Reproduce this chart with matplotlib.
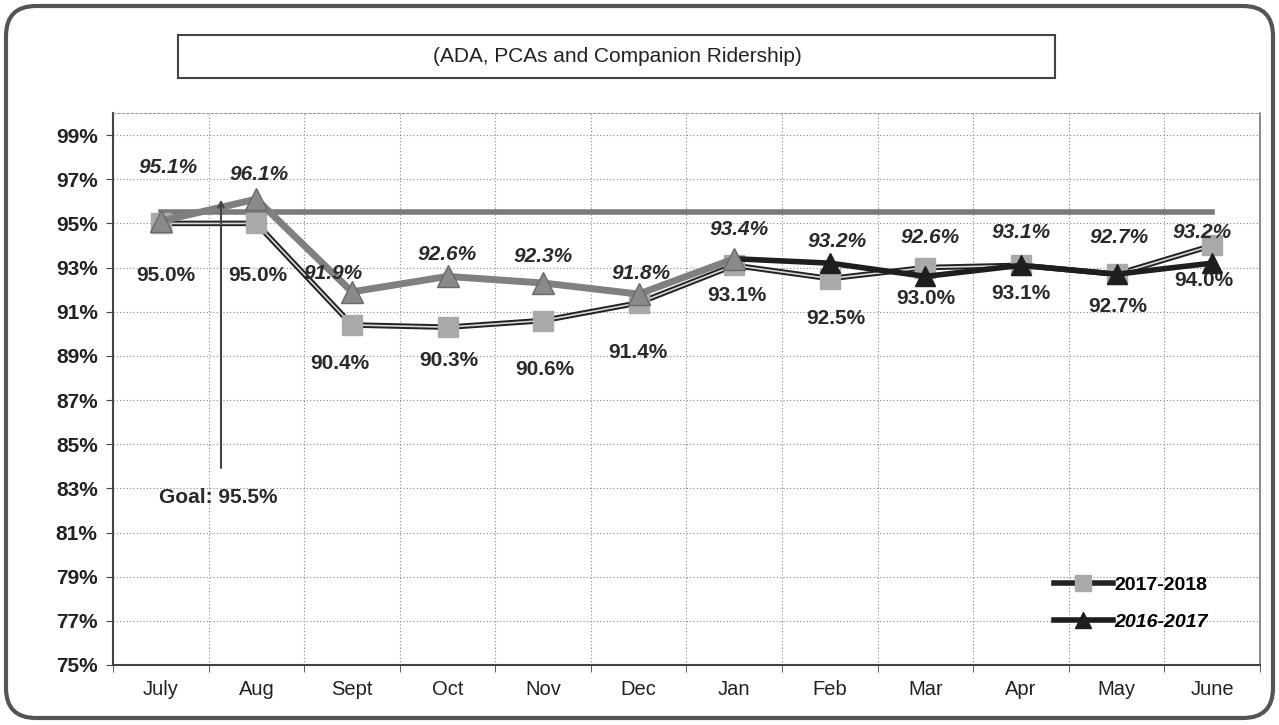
import numpy as np
import matplotlib.pyplot as plt
from matplotlib.patches import FancyBboxPatch, Rectangle
from matplotlib.lines import Line2D

plt.rcParams['font.family'] = ['Liberation Sans', 'DejaVu Sans']

months = ['July', 'Aug', 'Sept', 'Oct', 'Nov', 'Dec', 'Jan', 'Feb', 'Mar', 'Apr', 'May', 'June']
fy1718 = [95.0, 95.0, 90.4, 90.3, 90.6, 91.4, 93.1, 92.5, 93.0, 93.1, 92.7, 94.0]
fy1617 = [95.1, 96.1, 91.9, 92.6, 92.3, 91.8, 93.4, 93.2, 92.6, 93.1, 92.7, 93.2]
goal = 95.5
yticks = list(range(75, 100, 2))

# label offsets in pixels (dx, dy)
off1617 = [(7, 54), (3, 25), (-19, 18), (0, 22), (0, 27), (2, 21),
           (5, 29), (7, 22), (5, 39), (0, 33), (2, 37), (-10, 31)]
off1718 = [(5, -52), (1, -52), (-12, -39), (1, -33), (2, -49), (-1, -50),
           (3, -30), (6, -40), (0, -31), (0, -28), (1, -32), (-8, -35)]

fig = plt.figure(figsize=(12.79, 7.25), dpi=100)
ax = fig.add_axes([113 / 1279, 60 / 725, 1147 / 1279, 552 / 725])
x = np.arange(len(months))

# outer rounded frame and title box
fig.patches.append(FancyBboxPatch((0.06, 0.07), 12.67, 7.12, boxstyle='round,pad=0,rounding_size=0.3',
                                  transform=fig.dpi_scale_trans, fill=False, ec='#555555', lw=3))
fig.patches.append(Rectangle((1.78, 6.47), 8.77, 0.43, transform=fig.dpi_scale_trans,
                             fill=False, ec='#444444', lw=1.5))
fig.text(6.17 / 12.79, 6.68 / 7.25, '(ADA, PCAs and Companion Ridership)', ha='center', va='center',
         fontsize=15, color='#222222')

# goal line
ax.plot(x, [goal] * len(x), color='#7a7a7a', lw=4, zorder=2)

# 2017-2018
ax.plot(x, fy1718, color='#222222', lw=4, zorder=3)
ax.plot(x, fy1718, color='#d8d8d8', lw=1.2, zorder=3)
ax.plot(x, fy1718, ls='none', marker='s', ms=15, mfc='#a9a9a9', mec='#a9a9a9', zorder=4)

# 2016-2017
ax.plot(x[:7], fy1617[:7], color='#808080', lw=5, zorder=5)
ax.plot(x[6:], fy1617[6:], color='#1e1e1e', lw=4, zorder=5)
ax.plot(x[:7], fy1617[:7], ls='none', marker='^', ms=16, mfc='#8a8a8a', mec='#6a6a6a', zorder=6)
ax.plot(x[7:], fy1617[7:], ls='none', marker='^', ms=14, mfc='#1e1e1e', mec='#1e1e1e', zorder=6)

for i in range(len(x)):
    ax.annotate(f'{fy1617[i]:.1f}%', (x[i], fy1617[i]), xytext=(off1617[i][0] * 0.72, off1617[i][1] * 0.72),
                textcoords='offset points', ha='center', va='center', fontsize=15,
                fontweight='bold', fontstyle='italic', color='#2a2a2a', zorder=7)
    ax.annotate(f'{fy1718[i]:.1f}%', (x[i], fy1718[i]), xytext=(off1718[i][0] * 0.72, off1718[i][1] * 0.72),
                textcoords='offset points', ha='center', va='center', fontsize=15,
                fontweight='bold', color='#2a2a2a', zorder=7)

# goal annotation
ax.annotate('', xy=(0.63, 96.2), xytext=(0.63, 83.8), zorder=8,
            arrowprops=dict(arrowstyle='->', color='#444444', lw=1.5))
ax.text(0.6, 82.6, 'Goal: 95.5%', ha='center', va='center', fontsize=15, fontweight='bold', color='#2a2a2a')

ax.set_xlim(-0.5, 11.5)
ax.set_ylim(75, 100)
ax.set_yticks(yticks)
ax.set_yticklabels([f'{v}%' for v in yticks], fontsize=15, fontweight='bold', color='#222222')
ax.set_xticks(x)
ax.set_xticklabels(months, fontsize=14.5, color='#222222')
ax.set_xticks(np.arange(-0.5, 12, 1), minor=True)
ax.tick_params(axis='x', which='major', length=0, pad=11)
ax.tick_params(axis='x', which='minor', length=5, direction='out', color='#444444')
ax.tick_params(axis='y', length=5, direction='out', color='#444444', pad=6)

ax.grid(True, axis='y', ls=(0, (1, 2)), color='#888888', lw=0.8)
ax.grid(True, axis='x', which='minor', ls=(0, (1, 2)), color='#888888', lw=0.8)
for s in ['left', 'bottom']:
    ax.spines[s].set_color('#444444')
    ax.spines[s].set_linewidth(1.5)
ax.spines['top'].set_color('#999999')
ax.spines['top'].set_linestyle((0, (2, 2)))
ax.spines['right'].set_color('#777777')
ax.spines['right'].set_linewidth(1.2)

h1 = Line2D([], [], color='#222222', lw=4, marker='s', ms=12, mfc='#a9a9a9', mec='#a9a9a9')
h2 = Line2D([], [], color='#1e1e1e', lw=4, marker='^', ms=12, mfc='#1e1e1e', mec='#1e1e1e')
leg = ax.legend([h1, h2], ['2017-2018', '2016-2017'], loc='lower right', bbox_to_anchor=(0.97, 0.03),
                frameon=False, handlelength=3.0, handletextpad=0.1, labelspacing=1.0,
                prop={'weight': 'bold', 'size': 14})
leg.get_texts()[1].set_fontstyle('italic')

fig.savefig('out.png', dpi=100)
